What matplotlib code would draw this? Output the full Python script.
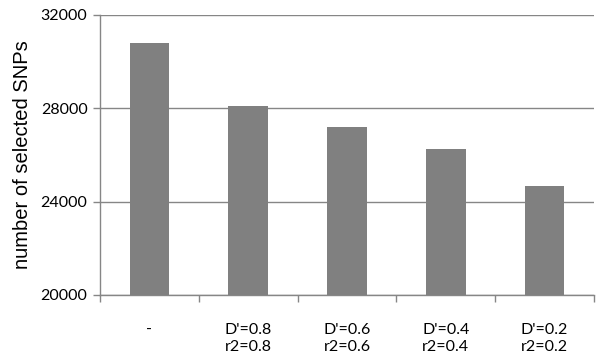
import matplotlib.pyplot as plt
import numpy as np

categories = ["-", "D'=0.8\nr2=0.8", "D'=0.6\nr2=0.6", "D'=0.4\nr2=0.4", "D'=0.2\nr2=0.2"]
snp_counts = [30810, 28090, 27190, 26240, 24660]
y_ticks = [20000, 24000, 28000, 32000]

fig = plt.figure(figsize=(6, 3.62), dpi=100)
ax = fig.add_axes([100 / 600, 1 - 295 / 362, 494 / 600, 280 / 362])

x = np.arange(len(categories))
ax.bar(x, snp_counts, width=0.4, color='#808080', zorder=3)

ax.set_ylim(20000, 32000)
ax.set_xlim(-0.5, len(categories) - 0.5)
ax.set_yticks(y_ticks)
ax.set_yticklabels([str(t) for t in y_ticks], fontfamily='Lato', fontsize=11.5)
ax.yaxis.grid(True, color='#868686', linewidth=1, zorder=0)

ax.set_xticks(x)
ax.set_xticklabels(categories, fontfamily='Lato', fontsize=11.5, linespacing=1.25)
ax.tick_params(axis='x', length=0, pad=20)
ax.set_xticks(np.arange(-0.5, len(categories)), minor=True)
ax.tick_params(axis='x', which='minor', length=5, color='#868686', width=1)
ax.tick_params(axis='y', length=5, color='#868686', width=1, pad=4)

for side in ['top', 'right']:
    ax.spines[side].set_visible(False)
for side in ['left', 'bottom']:
    ax.spines[side].set_color('#868686')
    ax.spines[side].set_linewidth(1)

ax.set_ylabel('number of selected SNPs', fontfamily='Liberation Sans', fontsize=14.5, labelpad=6)

plt.savefig('out.png', dpi=100)
plt.close()
